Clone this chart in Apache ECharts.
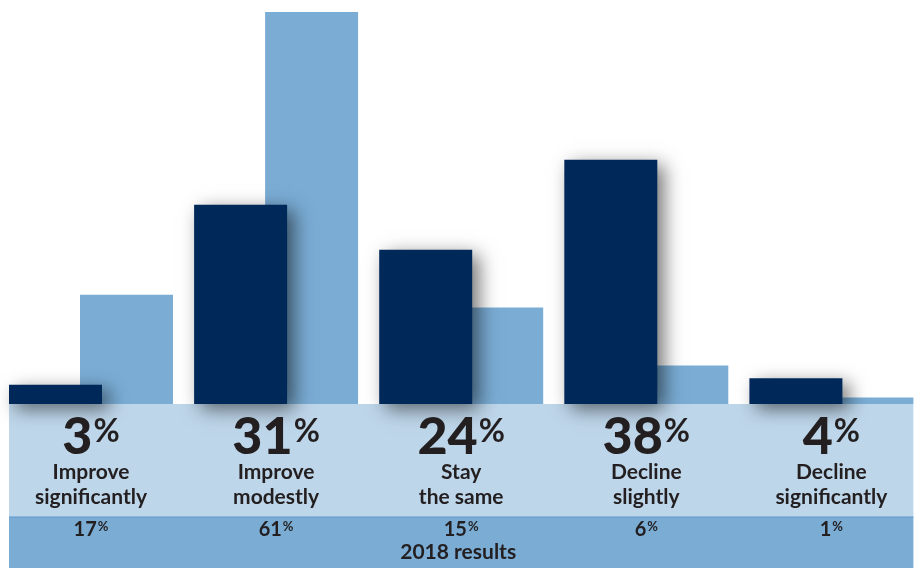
<!DOCTYPE html>
<html>
<head>
<meta charset="utf-8">
<style>
  html, body { margin: 0; padding: 0; background: #ffffff; }
  #chart { width: 917px; height: 568px; }
</style>
<script src="https://cdn.jsdelivr.net/npm/echarts@6/dist/echarts.min.js"></script>
</head>
<body>
<div id="chart"></div>
<script>
// Survey outlook categories (two-line labels)
const categories = [
  ['Improve', 'significantly'],
  ['Improve', 'modestly'],
  ['Stay', 'the same'],
  ['Decline', 'slightly'],
  ['Decline', 'significantly']
];
// Current results (%)
const currentValues = [3, 31, 24, 38, 4];
// 2018 results (%)
const results2018 = [17, 61, 15, 6, 1];
const footerTitle = '2018 results';

const FONT = 'Lato, "Noto Sans", sans-serif';
const INK = '#231f20';
const NAVY = '#00295a';
const SKY = '#7aacd4';
const BAND = '#bed6ea';
const BAR_W = 93;
const OVERLAP = 22;
const HALF_GROUP = BAR_W - OVERLAP / 2; // half width of a dark+light pair

const chart = echarts.init(document.getElementById('chart'), null, { renderer: 'canvas' });

const option = {
  animation: false,
  grid: {
    left: -1.55, width: 925.5, top: 12, bottom: 164,
    containLabel: false, outerBoundsMode: 'none'
  },
  xAxis: {
    type: 'category',
    data: categories.map(c => c.join(' ')),
    axisLine: { show: false },
    axisTick: { show: false },
    axisLabel: { show: false },
    splitLine: { show: false }
  },
  yAxis: {
    type: 'value',
    min: 0,
    max: 61,
    show: false,
    splitLine: { show: false }
  },
  series: [
    {
      name: 'Current',
      type: 'bar',
      data: currentValues,
      barWidth: BAR_W,
      barGap: (-OVERLAP / BAR_W * 100).toFixed(2) + '%',
      z: 4,
      itemStyle: {
        color: NAVY,
        shadowColor: 'rgba(0,0,0,0.55)',
        shadowBlur: 18,
        shadowOffsetX: 7,
        shadowOffsetY: 5
      }
    },
    {
      name: '2018',
      type: 'bar',
      data: results2018,
      barWidth: BAR_W,
      z: 3,
      itemStyle: { color: SKY }
    }
  ]
};
chart.setOption(option);

// Label bands below the bars, positioned from the axes
const baseY = chart.convertToPixel({ yAxisIndex: 0 }, 0);
const leftX = chart.convertToPixel({ xAxisIndex: 0 }, 0) - HALF_GROUP;
const rightX = chart.convertToPixel({ xAxisIndex: 0 }, categories.length - 1) + HALF_GROUP;
const BAND_H = 113;

const elements = [
  {
    type: 'rect', z: 0,
    shape: { x: leftX, y: baseY, width: rightX - leftX, height: BAND_H },
    style: { fill: BAND }
  },
  {
    type: 'rect', z: 0,
    shape: { x: leftX, y: baseY + BAND_H, width: rightX - leftX, height: 568 - baseY - BAND_H },
    style: { fill: SKY }
  },
  {
    type: 'rect', z: 1,
    shape: { x: leftX, y: baseY + BAND_H - 0.5, width: rightX - leftX, height: 1 },
    style: { fill: '#5e97c9' }
  },
  {
    type: 'text', z: 10,
    style: {
      text: footerTitle, x: (leftX + rightX) / 2 - 3, y: 552,
      textAlign: 'center', textVerticalAlign: 'middle',
      font: 'bold 21px ' + FONT, fill: INK
    }
  }
];

categories.forEach((lines, i) => {
  const cx = chart.convertToPixel({ xAxisIndex: 0 }, i);
  elements.push({
    type: 'text', z: 10,
    style: {
      text: '{n|' + currentValues[i] + '}{p|%}',
      x: cx, y: 437,
      textAlign: 'center', textVerticalAlign: 'middle',
      rich: {
        n: { fontFamily: FONT, fontWeight: 900, fontSize: 52, lineHeight: 56, fill: INK, color: INK },
        p: { fontFamily: FONT, fontWeight: 'bold', fontSize: 32, lineHeight: 56, verticalAlign: 'top', padding: [7, 0, 0, 1], fill: INK, color: INK }
      }
    }
  });
  elements.push({
    type: 'text', z: 10,
    style: {
      text: lines.join('\n'),
      x: cx, y: 484.5,
      textAlign: 'center', textVerticalAlign: 'middle',
      fontFamily: FONT, fontWeight: 'bold', fontSize: 21, lineHeight: 25,
      fill: INK
    }
  });
  elements.push({
    type: 'text', z: 10,
    style: {
      text: '{v|' + results2018[i] + '}{s|%}',
      x: cx, y: 530,
      textAlign: 'center', textVerticalAlign: 'middle',
      rich: {
        v: { fontFamily: FONT, fontWeight: 'bold', fontSize: 20, lineHeight: 22, fill: INK, color: INK },
        s: { fontFamily: FONT, fontWeight: 'bold', fontSize: 13, lineHeight: 22, verticalAlign: 'top', padding: [1, 0, 0, 1], fill: INK, color: INK }
      }
    }
  });
});

chart.setOption({ graphic: { elements: elements } });
</script>
</body>
</html>
